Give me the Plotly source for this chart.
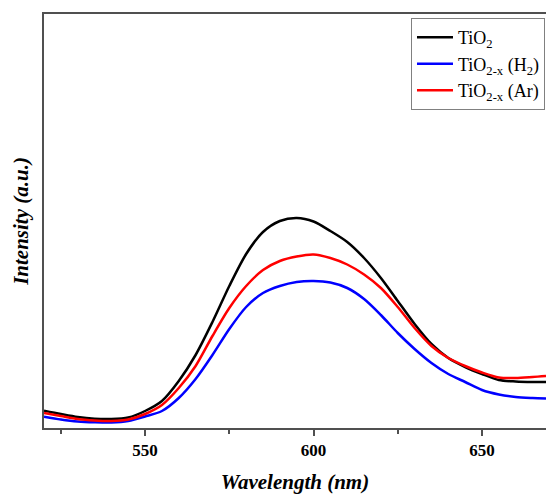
import plotly.graph_objects as go

wavelength = [520, 525, 530, 535, 540, 545, 550, 555, 560, 565, 570, 575, 580, 585, 590,
              595, 600, 605, 610, 615, 620, 625, 630, 635, 640, 645, 650, 655, 660, 665, 669]

tio2 = [17.3, 14, 11, 9.3, 9, 10.5, 17, 27, 47, 73, 106, 142, 174, 196, 207,
        210, 206.5, 197, 186, 170, 150, 127, 104, 84, 70, 61, 54, 48, 46.5, 46, 46]

tio2x_h2 = [11.3, 8.5, 6.5, 5.7, 5.5, 7, 11.5, 17, 30, 49, 73, 99, 121, 135, 142,
            146, 147, 145.5, 140, 129, 113, 95, 79, 65, 54, 46, 38, 33.5, 31, 30, 29.5]

tio2x_ar = [15, 12, 9, 7.5, 7, 8.5, 14, 23, 40, 62, 92, 120, 142, 158, 167,
            171.5, 173.5, 170, 163.5, 153.5, 140, 121, 100, 82, 70, 62, 55.5, 50.5, 50, 51, 52]

series = [
    ("TiO<sub>2</sub>", tio2, "#000000"),
    ("TiO<sub>2-x</sub> (H<sub>2</sub>)", tio2x_h2, "#0000ff"),
    ("TiO<sub>2-x</sub> (Ar)", tio2x_ar, "#ff0000"),
]

fig = go.Figure()
for name, vals, color in series:
    fig.add_trace(go.Scatter(
        x=wavelength, y=vals, name=name, mode="lines",
        line=dict(color=color, width=2.5, shape="spline", smoothing=0.8),
    ))

serif = "Liberation Serif, Times New Roman, serif"

fig.update_layout(
    width=546, height=494,
    margin=dict(l=44, r=0, t=14, b=66, autoexpand=False),
    paper_bgcolor="white", plot_bgcolor="white",
    showlegend=True,
    legend=dict(
        x=0.998, y=0.99, xanchor="right", yanchor="top",
        bgcolor="white", bordercolor="#808080", borderwidth=1,
        font=dict(family=serif, size=18, color="black"),
        tracegroupgap=0, itemwidth=36,
    ),
    xaxis=dict(
        range=[520, 669], automargin=False,
        showline=True, linecolor="#505050", linewidth=2, mirror=True,
        showgrid=False, zeroline=False,
        tickmode="array", tickvals=[550, 600, 650],
        ticks="outside", ticklen=6, tickwidth=1.5, tickcolor="#505050",
        minor=dict(tickvals=[525, 575, 625], ticks="outside", ticklen=4, tickwidth=1.5, tickcolor="#505050"),
        tickfont=dict(family=serif, size=17, color="black", weight="bold"),
        title=dict(text="Wavelength (nm)", standoff=20,
                   font=dict(family=serif, size=21, color="black", weight="bold", style="italic")),
    ),
    yaxis=dict(
        range=[0, 414], automargin=False,
        showline=True, linecolor="#505050", linewidth=2, mirror=False,
        showgrid=False, zeroline=False, showticklabels=False, ticks="",
        title=dict(text="Intensity (a.u.)", standoff=8,
                   font=dict(family=serif, size=21, color="black", weight="bold", style="italic")),
    ),
)

fig.write_html("out.html", config={"displayModeBar": False},
               post_script="document.body.style.margin='0';document.body.style.overflow='hidden';")
